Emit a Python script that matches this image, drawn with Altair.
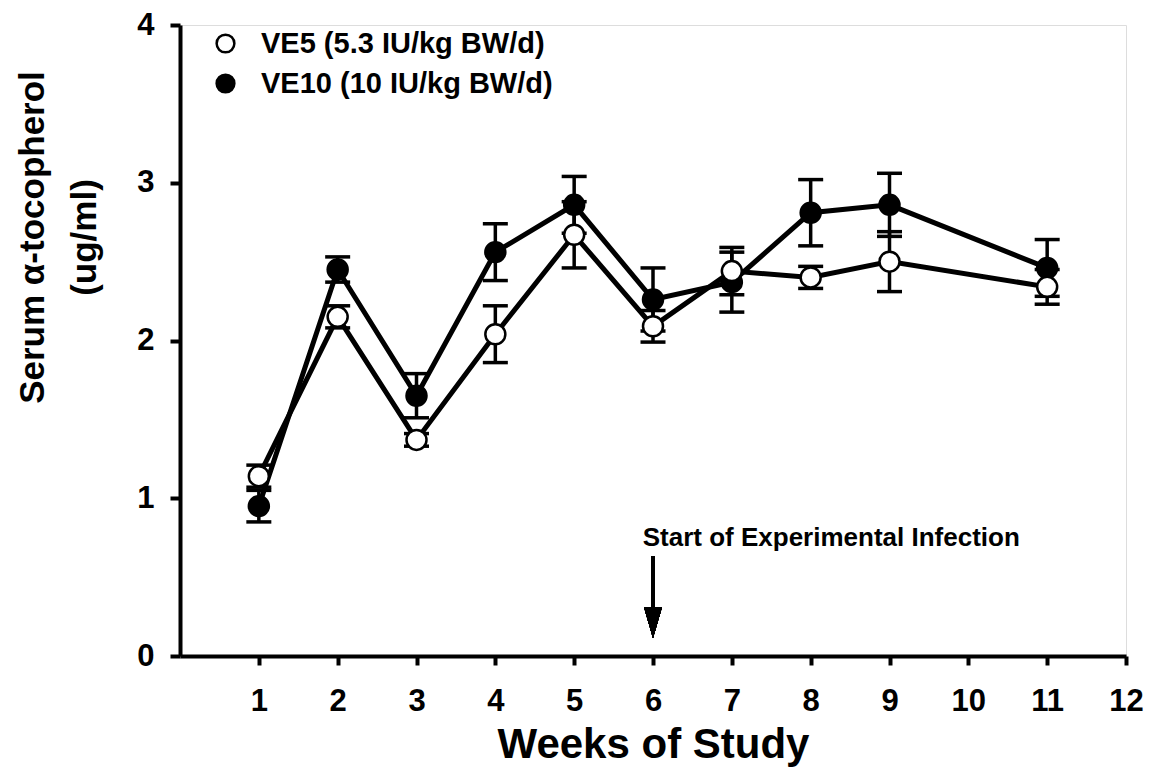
import altair as alt
import pandas as pd

# ---- data ----
weeks = [1, 2, 3, 4, 5, 6, 7, 8, 9, 11]
ve5_mean = [1.14, 2.15, 1.37, 2.04, 2.67, 2.09, 2.44, 2.40, 2.50, 2.34]
ve5_err = [0.07, 0.07, 0.04, 0.18, 0.21, 0.10, 0.15, 0.07, 0.19, 0.11]
ve10_mean = [0.95, 2.45, 1.65, 2.56, 2.86, 2.26, 2.37, 2.81, 2.86, 2.46]
ve10_err = [0.10, 0.08, 0.14, 0.18, 0.18, 0.20, 0.19, 0.21, 0.20, 0.18]
series_labels = ["VE5 (5.3 IU/kg BW/d)", "VE10 (10 IU/kg BW/d)"]
x_ticks = [1, 2, 3, 4, 5, 6, 7, 8, 9, 10, 11, 12]
y_ticks = [0, 1, 2, 3, 4]

annotation_text = "Start of Experimental Infection"
annotation_week = 5.87
annotation_value = 0.70
arrow_week = 6
arrow_top = 0.63
arrow_bottom = 0.25
arrow_head = 0.212

FONT = "Liberation Sans"

rows = []
# VE10 first so open VE5 circles are drawn on top
for lab, means, errs in [(series_labels[1], ve10_mean, ve10_err),
                         (series_labels[0], ve5_mean, ve5_err)]:
    for w, m, e in zip(weeks, means, errs):
        rows.append({"week": w, "mean": m, "lo": m - e, "hi": m + e, "series": lab})
df = pd.DataFrame(rows)
df["order"] = range(len(df))

xscale = alt.Scale(domain=[0, 12], nice=False, zero=False)
yscale = alt.Scale(domain=[0, 4], nice=False)

xaxis = alt.Axis(
    values=x_ticks, grid=False, title="Weeks of Study", format="d",
    titleFontSize=42, titleFontWeight="bold", titleFont=FONT, titleColor="black",
    titleY=101, titleBaseline="alphabetic",
    labelFontSize=31, labelFontWeight="bold", labelFont=FONT, labelColor="black",
    labelPadding=21, tickSize=9, tickWidth=4, tickColor="black",
    domainWidth=4, domainColor="black", labelFlush=False,
)
yaxis = alt.Axis(
    values=y_ticks, grid=False, title=["Serum α-tocopherol", "(ug/ml)"], format="d",
    titleFontSize=35, titleFontWeight="bold", titleFont=FONT, titleColor="black",
    titleAngle=270, titleAlign="center", titleBaseline="top",
    titleX=-165, titleY=212, titleLineHeight=52,
    labelFontSize=31, labelFontWeight="bold", labelFont=FONT, labelColor="black",
    labelPadding=16, tickSize=10, tickWidth=4, tickColor="black",
    domainWidth=4, domainColor="black", labelFlush=False,
)

base = alt.Chart(df)

err = base.mark_rule(strokeWidth=3.5, color="black").encode(
    x=alt.X("week:Q", scale=xscale, axis=xaxis),
    y=alt.Y("lo:Q", scale=yscale, axis=yaxis),
    y2="hi:Q",
    detail="series:N",
)
cap_lo = base.mark_tick(orient="horizontal", size=25, thickness=3.5, color="black", opacity=1).encode(
    x="week:Q", y="lo:Q"
)
cap_hi = base.mark_tick(orient="horizontal", size=25, thickness=3.5, color="black", opacity=1).encode(
    x="week:Q", y="hi:Q"
)
lines = base.mark_line(strokeWidth=5, color="black").encode(
    x="week:Q", y="mean:Q", detail="series:N", order="week:Q"
)
points = base.mark_point(filled=True, shape="circle", size=400, stroke="black",
                         strokeWidth=2.5, opacity=1).encode(
    x="week:Q", y="mean:Q",
    fill=alt.Fill("series:N",
                  scale=alt.Scale(domain=series_labels, range=["white", "black"]),
                  legend=alt.Legend(
                      title=None, orient="none", legendX=31, legendY=4,
                      padding=0, symbolType="circle", symbolSize=314,
                      symbolStrokeColor="black", symbolStrokeWidth=2.5,
                      labelFontSize=29, labelFontWeight="bold", labelFont=FONT,
                      labelColor="black", labelOffset=21, rowPadding=10,
                      labelLimit=600,
                  )),
    order="order:Q",
)

shaft = alt.Chart(df).mark_rule(strokeWidth=3.5, color="black").encode(
    x=alt.datum(arrow_week), y=alt.datum(arrow_top), y2=alt.datum(arrow_bottom)
)
head = alt.Chart(df).mark_point(
    shape="M -0.58 -1 L 0.58 -1 L 0 1 Z", filled=True, color="black",
    size=961, opacity=1
).encode(x=alt.datum(arrow_week), y=alt.datum(arrow_head))
note = alt.Chart({"values": [{}]}).mark_text(
    align="left", baseline="alphabetic", fontSize=26, fontWeight="bold",
    font=FONT, color="black"
).encode(x=alt.datum(annotation_week), y=alt.datum(annotation_value),
         text=alt.datum(annotation_text))

chart = alt.layer(err, cap_lo, cap_hi, lines, points, shaft, head, note).properties(
    width=946, height=631,
    autosize=alt.AutoSizeParams(type="none"),
    padding={"left": 172, "top": 17, "right": 22, "bottom": 112},
).configure_view(stroke=None).configure(background="white")

chart.save("out.html", embed_options={"renderer": "svg", "actions": False})
